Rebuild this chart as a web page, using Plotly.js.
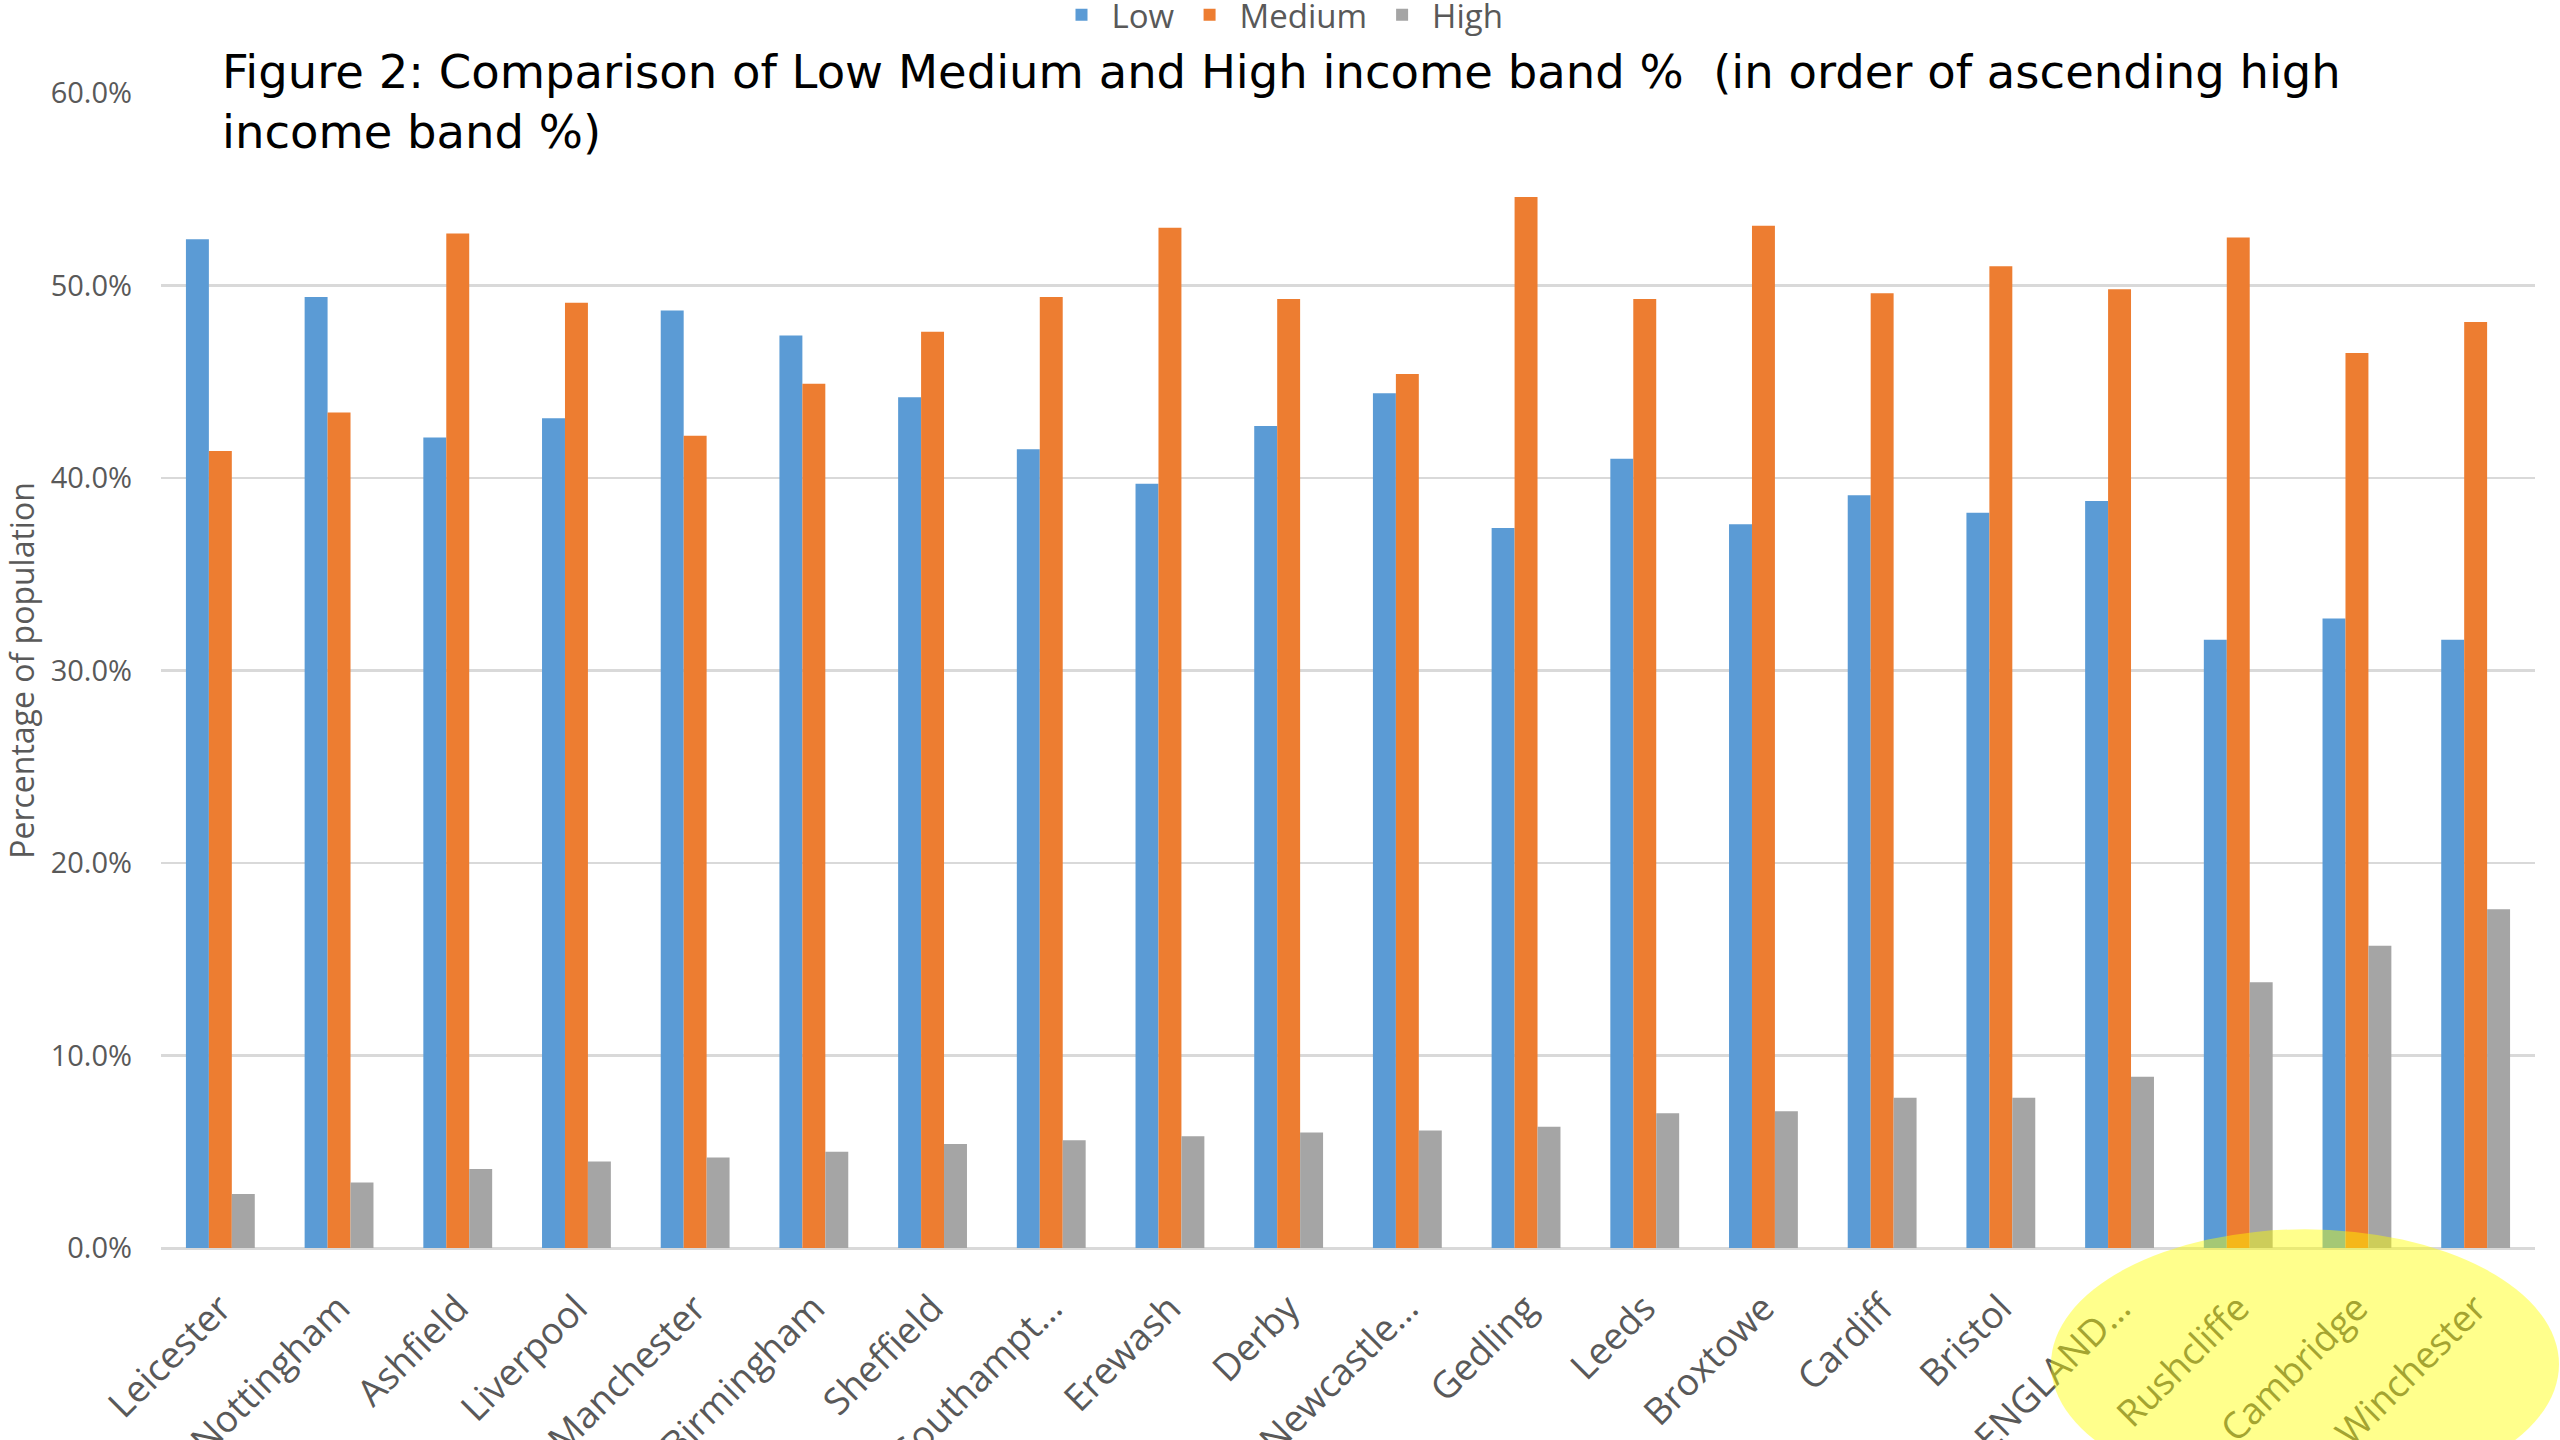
<!DOCTYPE html>
<html>
<head>
<meta charset="utf-8">
<script src="https://cdn.plot.ly/plotly-3.0.1.min.js"></script>
<style>
  html, body { margin: 0; padding: 0; background: #ffffff; }
  #chart { width: 2560px; height: 1440px; }
</style>
</head>
<body>
<div id="chart"></div>
<script>
// Local areas, ordered by ascending share in the high income band
const areas = [
  "Leicester", "Nottingham", "Ashfield", "Liverpool", "Manchester",
  "Birmingham", "Sheffield", "Southampt…", "Erewash", "Derby",
  "Newcastle…", "Gedling", "Leeds", "Broxtowe", "Cardiff",
  "Bristol", "ENGLAND…", "Rushcliffe", "Cambridge", "Winchester"
];

// Share of population in each income band (fractions)
const lowBand = [
  0.524, 0.494, 0.421, 0.431, 0.487,
  0.474, 0.442, 0.415, 0.397, 0.427,
  0.444, 0.374, 0.410, 0.376, 0.391,
  0.382, 0.388, 0.316, 0.327, 0.316
];
const mediumBand = [
  0.414, 0.434, 0.527, 0.491, 0.422,
  0.449, 0.476, 0.494, 0.530, 0.493,
  0.454, 0.546, 0.493, 0.531, 0.496,
  0.510, 0.498, 0.525, 0.465, 0.481
];
const highBand = [
  0.028, 0.034, 0.041, 0.045, 0.047,
  0.050, 0.054, 0.056, 0.058, 0.060,
  0.061, 0.063, 0.070, 0.071, 0.078,
  0.078, 0.089, 0.138, 0.157, 0.176
];

const seriesNames = ["Low", "Medium", "High"];
const seriesColors = ["#5B9BD5", "#ED7D31", "#A5A5A5"];
const seriesValues = [lowBand, mediumBand, highBand];

const chartTitle = "Figure 2: Comparison of Low Medium and High income band %  (in order of ascending high<br>income band %)";
const yTitle = "Percentage of population";

const textGrey = "#595959";
const uiFont = "'Open Sans', 'Noto Sans', sans-serif";

const traces = seriesValues.map((vals, i) => ({
  type: "bar",
  name: seriesNames[i],
  x: areas,
  y: vals,
  marker: { color: seriesColors[i], line: { width: 0 } },
  hoverinfo: "x+y+name"
}));

const layout = {
  width: 2560,
  height: 1440,
  paper_bgcolor: "#ffffff",
  plot_bgcolor: "#ffffff",
  margin: { l: 161, r: 25, t: 93, b: 192, autoexpand: false },
  barmode: "group",
  bargap: 0.42,
  bargroupgap: 0,
  font: { family: uiFont, color: textGrey, size: 26 },
  title: {
    text: chartTitle,
    font: { family: "'DejaVu Sans', sans-serif", size: 46.5, color: "#000000" },
    xref: "container",
    yref: "container",
    x: 222 / 2560,
    xanchor: "left",
    y: 1 - 88 / 1440,
    yanchor: "top"
  },
  showlegend: true,
  legend: {
    orientation: "h",
    xref: "container",
    yref: "paper",
    x: 0.5,
    xanchor: "center",
    y: 1.092,
    yanchor: "top",
    font: { family: uiFont, size: 33, color: textGrey },
    itemwidth: 50,
    bgcolor: "rgba(0,0,0,0)"
  },
  xaxis: {
    type: "category",
    automargin: false,
    tickangle: -45,
    ticks: "",
    ticklabelstandoff: 30,
    tickfont: { family: uiFont, size: 37, color: textGrey },
    showgrid: false,
    showline: false,
    zeroline: false
  },
  yaxis: {
    range: [0, 0.6],
    dtick: 0.1,
    tickformat: ".1%",
    automargin: false,
    ticks: "",
    ticklabelstandoff: 28,
    tickfont: { family: uiFont, size: 29, color: textGrey },
    showgrid: true,
    gridcolor: "#D9D9D9",
    gridwidth: 2.5,
    zeroline: true,
    zerolinecolor: "#D9D9D9",
    zerolinewidth: 3,
    showline: false,
    title: {
      text: yTitle,
      font: { family: uiFont, size: 32, color: textGrey },
      standoff: 7
    }
  },
  shapes: [
    {
      // highlight over the highest-band areas
      type: "circle",
      xref: "paper",
      yref: "paper",
      x0: (2051 - 161) / 2374,
      x1: (2559 - 161) / 2374,
      y0: (1247.7 - 1499) / 1155,
      y1: (1247.7 - 1229) / 1155,
      fillcolor: "rgba(255,255,0,0.45)",
      line: { width: 0 },
      layer: "above"
    }
  ]
};

Plotly.newPlot("chart", traces, layout, { displayModeBar: false, staticPlot: true });
</script>
</body>
</html>
